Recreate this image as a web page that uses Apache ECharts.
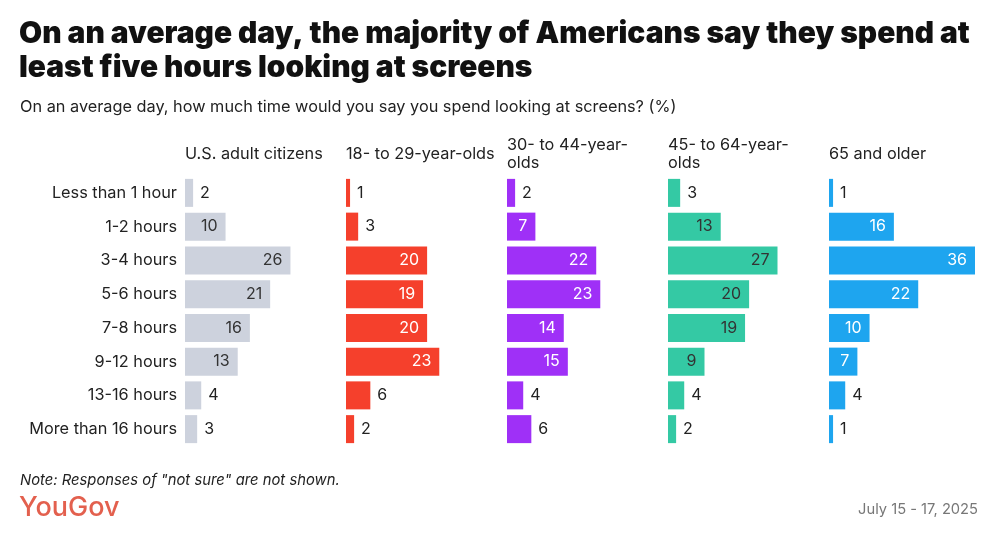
<!DOCTYPE html>
<html>
<head>
<meta charset="utf-8">
<script src="https://cdn.jsdelivr.net/npm/echarts@6/dist/echarts.min.js"></script>
<style>
  html, body { margin: 0; padding: 0; background: #fff; }
  #chart { width: 1000px; height: 540px; }
</style>
</head>
<body>
<div id="chart"></div>
<script>
/**
 * 屏幕使用时间 - 按年龄分组的横向条形图
 */
var categories = ['Less than 1 hour', '1-2 hours', '3-4 hours', '5-6 hours',
	'7-8 hours', '9-12 hours', '13-16 hours', 'More than 16 hours'];
var groups = ['U.S. adult citizens', '18- to 29-year-olds', '30- to 44-year-\nolds',
	'45- to 64-year-\nolds', '65 and older'];
var allAdults = [2, 10, 26, 21, 16, 13, 4, 3];
var age18to29 = [1, 3, 20, 19, 20, 23, 6, 2];
var age30to44 = [2, 7, 22, 23, 14, 15, 4, 6];
var age45to64 = [3, 13, 27, 20, 19, 9, 4, 2];
var age65plus = [1, 16, 36, 22, 10, 7, 4, 1];

var values = [allAdults, age18to29, age30to44, age45to64, age65plus];
var colors = ['#cdd2dd', '#f5402c', '#9f30f7', '#34c9a4', '#1ea5ef'];
var insideText = ['#333', '#fff', '#fff', '#333', '#fff'];

var font = 'Inter, "Noto Sans", sans-serif';
var grids = [], xAxes = [], yAxes = [], series = [], titles = [];

titles.push({
	text: 'On an average day, the majority of Americans say they spend at\nleast five hours looking at screens',
	left: 19, top: 17, padding: 0,
	textStyle: { fontFamily: font, fontSize: 29.9, fontWeight: 900, color: '#111', lineHeight: 34 }
});
titles.push({
	text: 'On an average day, how much time would you say you spend looking at screens? (%)',
	left: 20, top: 99, padding: 0,
	textStyle: { fontFamily: font, fontSize: 16.3, fontWeight: 'normal', color: '#222' }
});

for (var i = 0; i < values.length; i++) {
	var left = 185 + i * 161;
	grids.push({ left: left, top: 176, width: 146, height: 270 });
	xAxes.push({ gridIndex: i, type: 'value', min: 0, max: 36, show: false });
	yAxes.push({
		gridIndex: i, type: 'category', data: categories, inverse: true,
		axisLine: { show: false }, axisTick: { show: false },
		axisLabel: { show: i === 0, fontFamily: font, fontSize: 16.3, color: '#222', margin: 8 }
	});
	var twoLine = groups[i].indexOf('\n') >= 0;
	titles.push({
		text: groups[i], left: left, top: twoLine ? 136 : 145, padding: 0,
		textStyle: { fontFamily: font, fontSize: 16.3, fontWeight: 'normal', color: '#222', lineHeight: 18 }
	});
	var data = values[i].map(function (v) {
		var inside = v >= 7;
		return {
			value: v,
			label: {
				position: inside ? 'insideRight' : 'right',
				distance: inside ? 8 : 7,
				color: inside ? insideText[i] : '#222'
			}
		};
	});
	series.push({
		type: 'bar', xAxisIndex: i, yAxisIndex: i,
		data: data, barWidth: 28,
		itemStyle: { color: colors[i] },
		label: { show: true, fontFamily: font, fontSize: 16 },
		silent: true, animation: false
	});
}

titles.push({
	text: 'Note: Responses of "not sure" are not shown.',
	left: 20, top: 473, padding: 0,
	textStyle: { fontFamily: font, fontSize: 14.8, fontStyle: 'italic', fontWeight: 'normal', color: '#222' }
});
titles.push({
	text: 'YouGov',
	left: 19, top: 494, padding: 0,
	textStyle: { fontFamily: font, fontSize: 27, fontWeight: 500, color: '#e3604e' }
});
titles.push({
	text: 'July 15 - 17, 2025',
	right: 22, top: 502, padding: 0,
	textStyle: { fontFamily: font, fontSize: 14.7, fontWeight: 'normal', color: '#777' }
});

var myChart = echarts.init(document.getElementById('chart'));
myChart.setOption({
	backgroundColor: '#fff',
	title: titles,
	grid: grids,
	xAxis: xAxes,
	yAxis: yAxes,
	series: series
});
</script>
</body>
</html>
